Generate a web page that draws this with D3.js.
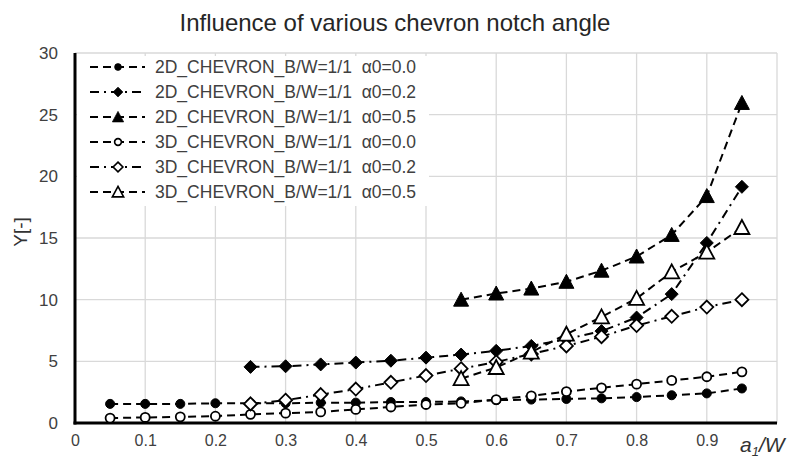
<!DOCTYPE html>
<html>
<head>
<meta charset="utf-8">
<script src="https://cdn.jsdelivr.net/npm/d3@7"></script>
<style>
  body { margin: 0; background: #fff; }
  svg { font-family: "Liberation Sans", Arial, sans-serif; }
</style>
</head>
<body>
<div id="chart"></div>
<script>
(function () {
    // data
    var xFull = [0.05, 0.1, 0.15, 0.2, 0.25, 0.3, 0.35, 0.4, 0.45, 0.5, 0.55, 0.6, 0.65, 0.7, 0.75, 0.8, 0.85, 0.9, 0.95];
    var xFrom25 = [0.25, 0.3, 0.35, 0.4, 0.45, 0.5, 0.55, 0.6, 0.65, 0.7, 0.75, 0.8, 0.85, 0.9, 0.95];
    var xFrom55 = [0.55, 0.6, 0.65, 0.7, 0.75, 0.8, 0.85, 0.9, 0.95];

    var y2d00 = [1.55, 1.55, 1.55, 1.6, 1.6, 1.6, 1.65, 1.65, 1.7, 1.7, 1.75, 1.85, 1.9, 1.95, 2.0, 2.1, 2.25, 2.4, 2.8];
    var y2d02 = [4.55, 4.6, 4.75, 4.9, 5.05, 5.3, 5.55, 5.85, 6.25, 6.8, 7.45, 8.55, 10.45, 14.6, 19.15];
    var y2d05 = [10.0, 10.5, 10.9, 11.45, 12.35, 13.5, 15.25, 18.4, 25.95];
    var y3d00 = [0.4, 0.45, 0.5, 0.55, 0.7, 0.8, 0.9, 1.1, 1.3, 1.5, 1.6, 1.9, 2.2, 2.55, 2.85, 3.15, 3.45, 3.75, 4.15];
    var y3d02 = [1.55, 1.85, 2.3, 2.75, 3.3, 3.85, 4.4, 4.95, 5.6, 6.25, 7.0, 7.9, 8.65, 9.4, 10.0];
    var y3d05 = [3.6, 4.5, 5.75, 7.2, 8.6, 10.1, 12.25, 13.85, 15.85];

    var seriesNames = [
        '2D_CHEVRON_B/W=1/1  \u03b10=0.0',
        '2D_CHEVRON_B/W=1/1  \u03b10=0.2',
        '2D_CHEVRON_B/W=1/1  \u03b10=0.5',
        '3D_CHEVRON_B/W=1/1  \u03b10=0.0',
        '3D_CHEVRON_B/W=1/1  \u03b10=0.2',
        '3D_CHEVRON_B/W=1/1  \u03b10=0.5'
    ];
    var xTicks = [0, 0.1, 0.2, 0.3, 0.4, 0.5, 0.6, 0.7, 0.8, 0.9];
    var yTicks = [0, 5, 10, 15, 20, 25, 30];

    var series = [
        { name: seriesNames[0], x: xFull,   y: y2d00, shape: 'circle',   filled: true,  dash: '8,5' },
        { name: seriesNames[1], x: xFrom25, y: y2d02, shape: 'diamond',  filled: true,  dash: '9,5,2,5' },
        { name: seriesNames[2], x: xFrom55, y: y2d05, shape: 'triangle', filled: true,  dash: '8,5' },
        { name: seriesNames[3], x: xFull,   y: y3d00, shape: 'circle',   filled: false, dash: '8,5' },
        { name: seriesNames[4], x: xFrom25, y: y3d02, shape: 'diamond',  filled: false, dash: '9,5,2,5' },
        { name: seriesNames[5], x: xFrom55, y: y3d05, shape: 'triangle', filled: false, dash: '8,5' }
    ];

    var w = 789, h = 458;
    var left = 75, right = 777, top = 53, bottom = 423;

    var svg = d3.select('#chart').append('svg')
        .attr('width', w)
        .attr('height', h);

    var x = d3.scaleLinear().domain([0, 1]).range([left, right]);
    var y = d3.scaleLinear().domain([0, 30]).range([bottom, top]);

    // gridlines
    svg.append('g')
        .selectAll('line.v')
        .data(d3.range(1, 11).map(function (i) { return i / 10; }))
        .enter().append('line')
            .attr('x1', function (d) { return x(d); })
            .attr('x2', function (d) { return x(d); })
            .attr('y1', top)
            .attr('y2', bottom)
            .style('stroke', '#d9d9d9')
            .style('stroke-width', 1.3);
    svg.append('g')
        .selectAll('line.h')
        .data(yTicks.slice(1))
        .enter().append('line')
            .attr('x1', left)
            .attr('x2', right)
            .attr('y1', function (d) { return y(d); })
            .attr('y2', function (d) { return y(d); })
            .style('stroke', '#d9d9d9')
            .style('stroke-width', 1.3);

    // legend background hides the grid
    svg.append('rect')
        .attr('x', left + 2).attr('y', 56)
        .attr('width', 352).attr('height', 150)
        .style('fill', '#fff');

    // axes
    var xAxis = svg.append('g')
        .attr('transform', 'translate(0,' + bottom + ')')
        .call(d3.axisBottom(x).tickValues(xTicks).tickSize(0).tickPadding(12)
            .tickFormat(function (d) { return d === 0 ? '0' : d3.format('.1f')(d); }));
    xAxis.select('.domain').remove();
    xAxis.selectAll('text').style('font-size', '16px').style('fill', '#404040');

    var yAxis = svg.append('g')
        .attr('transform', 'translate(' + left + ',0)')
        .call(d3.axisLeft(y).tickValues(yTicks).tickSize(0).tickPadding(17));
    yAxis.select('.domain').remove();
    yAxis.selectAll('text').style('font-size', '17px').style('fill', '#404040');

    svg.append('line')
        .attr('x1', left).attr('x2', left)
        .attr('y1', top).attr('y2', bottom + 1.5)
        .style('stroke', '#000').style('stroke-width', 3);
    svg.append('line')
        .attr('x1', left - 1.5).attr('x2', right)
        .attr('y1', bottom).attr('y2', bottom)
        .style('stroke', '#000').style('stroke-width', 3);

    // symbols
    function markerPath(shape) {
        if (shape === 'circle') return d3.symbol().type(d3.symbolCircle).size(64)();
        if (shape === 'diamond') return 'M0,-6.5L6.5,0L0,6.5L-6.5,0Z';
        return 'M0,-7.5L7.5,6.5L-7.5,6.5Z';
    }

    var line = d3.line()
        .x(function (d) { return x(d[0]); })
        .y(function (d) { return y(d[1]); });

    series.forEach(function (s) {
        var pts = s.x.map(function (v, i) { return [v, s.y[i]]; });
        svg.append('path')
            .datum(pts)
            .attr('d', line)
            .style('fill', 'none')
            .style('stroke', '#000')
            .style('stroke-width', 2)
            .style('stroke-dasharray', s.dash);
    });

    series.forEach(function (s) {
        var pts = s.x.map(function (v, i) { return [v, s.y[i]]; });
        svg.append('g')
            .selectAll('path')
            .data(pts)
            .enter().append('path')
                .attr('d', markerPath(s.shape))
                .attr('transform', function (d) { return 'translate(' + x(d[0]) + ',' + y(d[1]) + ')'; })
                .style('fill', s.filled ? '#000' : '#fff')
                .style('stroke', '#000')
                .style('stroke-width', s.filled ? 1 : 1.8);
    });

    // legend
    var legend = svg.append('g')
        .selectAll('g')
        .data(series)
        .enter().append('g')
            .attr('transform', function (d, i) { return 'translate(0,' + (67 + i * 25) + ')'; });
    legend.append('line')
        .attr('x1', 90).attr('x2', 145)
        .attr('y1', 0).attr('y2', 0)
        .style('stroke', '#000')
        .style('stroke-width', 2)
        .style('stroke-dasharray', function (d) { return d.dash; });
    legend.append('path')
        .attr('d', function (d) { return markerPath(d.shape); })
        .attr('transform', 'translate(118,0) scale(0.75)')
        .style('fill', function (d) { return d.filled ? '#000' : '#fff'; })
        .style('stroke', '#000')
        .style('stroke-width', function (d) { return d.filled ? 1 : 2.2; });
    legend.append('text')
        .attr('x', 155)
        .attr('y', 6)
        .text(function (d) { return d.name; })
        .style('font-size', '17.5px')
        .style('fill', '#404040')
        .style('white-space', 'pre');

    // title and axis labels
    svg.append('text')
        .attr('x', 395).attr('y', 31)
        .attr('text-anchor', 'middle')
        .text('Influence of various chevron notch angle')
        .style('font-size', '24px')
        .style('fill', '#262626');

    svg.append('text')
        .attr('transform', 'translate(27,232) rotate(-90)')
        .attr('text-anchor', 'middle')
        .text('Y[-]')
        .style('font-size', '19px')
        .style('fill', '#333');

    var xl = svg.append('text')
        .attr('x', 740).attr('y', 452)
        .style('font-size', '21px')
        .style('font-style', 'italic')
        .style('fill', '#333');
    xl.append('tspan').text('a');
    xl.append('tspan').attr('dy', 4).style('font-size', '13px').text('1');
    xl.append('tspan').attr('dy', -4).text('/W');
})();
</script>
</body>
</html>
